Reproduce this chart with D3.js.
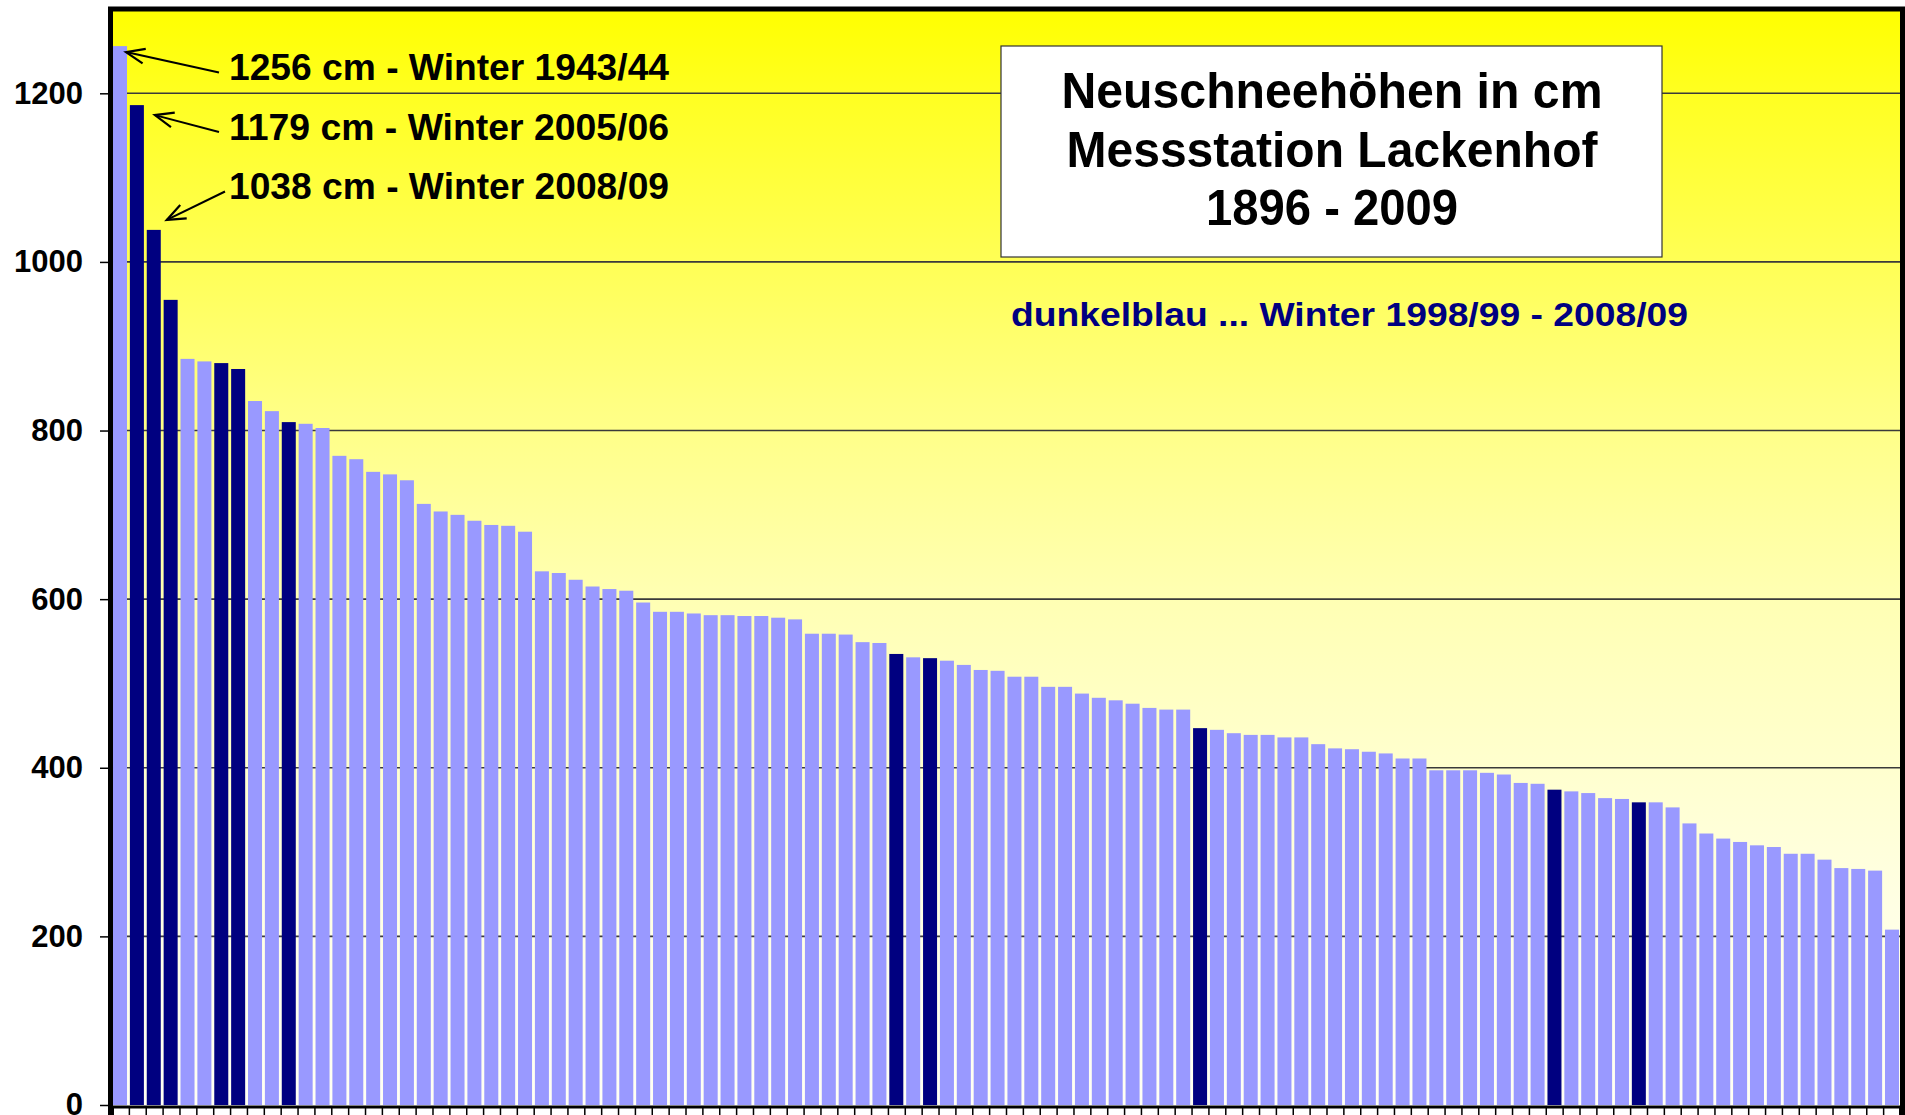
<!DOCTYPE html>
<html>
<head>
<meta charset="utf-8">
<script src="https://cdn.jsdelivr.net/npm/d3@7"></script>
<style>
  body { margin: 0; background: #fff; overflow: hidden; }
  text { font-family: "Liberation Sans", Arial, sans-serif; font-weight: bold; }
</style>
</head>
<body>
<script>
// Neuschneehoehen Lackenhof, sortiert nach Hoehe (1896 - 2009)
var snow = [1256, 1186, 1038, 955, 885, 882, 880, 873, 835, 823,
            810, 808, 803, 770, 766, 751, 748, 741, 713, 704,
            700, 693, 688, 687, 680, 633, 631, 623, 615, 612,
            610, 596, 585, 585, 583, 581, 581, 580, 580, 578,
            576, 559, 559, 558, 549, 548, 535, 531, 530, 527,
            522, 516, 515, 508, 508, 496, 496, 488, 483, 480,
            476, 471, 469, 469, 447, 445, 441, 439, 439, 436,
            436, 428, 423, 422, 419, 417, 411, 411, 397, 397,
            397, 394, 392, 382, 381, 374, 372, 370, 364, 363,
            359, 359, 353, 334, 322, 316, 312, 308, 306, 298,
            298, 291, 281, 280, 278, 208];

// ranks (0-based) of the winters 1998/99 - 2008/09
var darkRanks = [1, 2, 3, 6, 7, 10, 46, 48, 64, 85, 90];

var yTicks = [0, 200, 400, 600, 800, 1000, 1200];

var notes = ["1256 cm - Winter 1943/44", "1179 cm - Winter 2005/06", "1038 cm - Winter 2008/09"];
var noteRanks = [0, 1, 2];

var titleLines = ["Neuschneehöhen in cm", "Messstation Lackenhof", "1896 - 2009"];
var titleWidths = [541, 531, 252];
var legendText = "dunkelblau ... Winter 1998/99 - 2008/09";

var W = 1905, H = 1115;
var pLeft = 112, pRight = 1900, pTop = 9, pBottom = 1105;

var svg = d3.select('body').append('svg')
            .attr('width', W)
            .attr('height', H);

var defs = svg.append('defs');
var grad = defs.append('linearGradient')
    .attr('id', 'bg')
    .attr('x1', 0).attr('y1', 0).attr('x2', 0).attr('y2', 1);
[[0, '#ffff00'], [0.08, '#ffff22'], [0.36, '#ffff82'], [0.54, '#ffffb4'],
 [0.7, '#ffffd0'], [0.82, '#ffffe4'], [1, '#fffff4']].forEach(function (s) {
  grad.append('stop').attr('offset', s[0]).attr('stop-color', s[1]);
});

var x = d3.scaleBand()
    .domain(d3.range(snow.length))
    .range([pLeft, pRight])
    .paddingInner(0.17)
    .paddingOuter(0.06);

var xEdge = d3.scaleLinear().domain([0, snow.length]).range([pLeft, pRight]);

var y = d3.scaleLinear().domain([0, 1300]).range([pBottom, pTop]);

// plot background
svg.append('rect')
   .attr('x', pLeft).attr('y', pTop)
   .attr('width', pRight - pLeft).attr('height', pBottom - pTop)
   .attr('fill', 'url(#bg)');

// gridlines
svg.append('g').selectAll('line')
   .data(yTicks.slice(1))
   .enter().append('line')
   .attr('x1', pLeft).attr('x2', pRight)
   .attr('y1', function (d) { return y(d); })
   .attr('y2', function (d) { return y(d); })
   .attr('stroke', '#3a3a3a')
   .attr('stroke-width', 1.6);

// bars
svg.append('g').selectAll('rect')
   .data(snow)
   .enter().append('rect')
   .attr('x', function (d, i) { return x(i); })
   .attr('y', function (d) { return y(d); })
   .attr('width', x.bandwidth())
   .attr('height', function (d) { return y(0) - y(d); })
   .attr('fill', function (d, i) { return darkRanks.indexOf(i) >= 0 ? '#000080' : '#9999ff'; });

// y axis
var yAxis = svg.append('g')
   .attr('transform', 'translate(' + (pLeft - 4) + ',0)')
   .call(d3.axisLeft(y).tickValues(yTicks).tickSize(8).tickPadding(17).tickFormat(d3.format('d')));
yAxis.select('.domain').remove();
yAxis.selectAll('.tick line').attr('stroke', '#000').attr('stroke-width', 1.5);
yAxis.selectAll('.tick text')
   .attr('font-size', 31)
   .attr('fill', '#000')
   .style('font-family', '"Liberation Sans", Arial, sans-serif')
   .style('font-weight', 'bold');

// x axis (category edges, no labels)
var xAxis = svg.append('g')
   .attr('transform', 'translate(0,' + (pBottom + 1.5) + ')')
   .call(d3.axisBottom(xEdge).tickValues(d3.range(snow.length + 1)).tickSize(9).tickFormat(''));
xAxis.select('.domain').attr('stroke', '#000').attr('stroke-width', 3);
xAxis.selectAll('.tick line').attr('stroke', '#000').attr('stroke-width', 1.5);

// frame
svg.append('rect')
   .attr('x', pLeft - 1.5).attr('y', pTop)
   .attr('width', pRight - pLeft + 4).attr('height', H + 20)
   .attr('fill', 'none')
   .attr('stroke', '#000')
   .attr('stroke-width', 5);

// annotations with arrows
var tipOffsets = [[-1, 6], [11, 10], [6, -10]];
var noteG = svg.append('g');
notes.forEach(function (t, k) {
  var i = noteRanks[k];
  var base = 80 + k * 59.5;
  var tx = x(i) + x.bandwidth() + tipOffsets[k][0];
  var ty = y(snow[i]) + tipOffsets[k][1];
  var sx = 219 + (k == 2 ? 6 : 0), sy = base - 7.5;
  noteG.append('line')
       .attr('x1', sx).attr('y1', sy).attr('x2', tx).attr('y2', ty)
       .attr('stroke', '#000').attr('stroke-width', 2);
  var ang = Math.atan2(sy - ty, sx - tx), len = 20, spread = 0.38;
  noteG.append('path')
       .attr('d', 'M' + (tx + len * Math.cos(ang - spread)) + ',' + (ty + len * Math.sin(ang - spread)) +
                  'L' + tx + ',' + ty +
                  'L' + (tx + len * Math.cos(ang + spread)) + ',' + (ty + len * Math.sin(ang + spread)))
       .attr('fill', 'none').attr('stroke', '#000').attr('stroke-width', 2.2);
  noteG.append('text')
       .attr('x', 229).attr('y', base)
       .attr('font-size', 37)
       .attr('textLength', 440)
       .attr('lengthAdjust', 'spacingAndGlyphs')
       .text(t);
});

// title box
svg.append('rect')
   .attr('x', 1001).attr('y', 46)
   .attr('width', 661).attr('height', 211)
   .attr('fill', '#fff')
   .attr('stroke', '#333')
   .attr('stroke-width', 1.2);

svg.append('g').selectAll('text')
   .data(titleLines)
   .enter().append('text')
   .attr('x', function (d, i) { return 1332 - titleWidths[i] / 2; })
   .attr('y', function (d, i) { return 108 + i * 58.5; })
   .attr('font-size', 50)
   .attr('textLength', function (d, i) { return titleWidths[i]; })
   .attr('lengthAdjust', 'spacingAndGlyphs')
   .attr('fill', '#000')
   .text(function (d) { return d; });

svg.append('text')
   .attr('x', 1011).attr('y', 326)
   .attr('font-size', 33)
   .attr('fill', '#000080')
   .attr('textLength', 677)
   .attr('lengthAdjust', 'spacingAndGlyphs')
   .text(legendText);
</script>
</body>
</html>
